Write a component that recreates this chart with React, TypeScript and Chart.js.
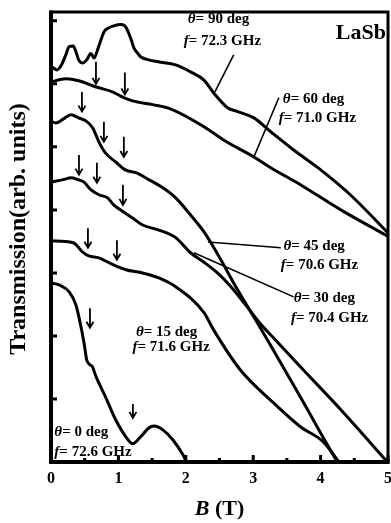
import { useEffect, useRef } from "react";
import { Chart, registerables } from "chart.js";

Chart.register(...registerables);

// Magnetic field (T) and transmission (arb. units, offset per angle)
const b90 = [0, 0.04, 0.09, 0.15, 0.22, 0.27, 0.33, 0.37, 0.41, 0.47, 0.53, 0.59, 0.64, 0.7, 0.79, 0.86, 0.93, 1.04, 1.11, 1.19, 1.23, 1.29, 1.33, 1.45, 1.59, 1.85, 2.07, 2.27, 2.41, 2.62, 2.77, 3.01, 3.26, 3.6, 3.96, 4.44, 5.05];
const t90 = [6.29, 6.25, 6.22, 6.29, 6.46, 6.59, 6.6, 6.51, 6.38, 6.33, 6.38, 6.48, 6.41, 6.57, 6.83, 6.89, 6.92, 6.94, 6.9, 6.7, 6.57, 6.48, 6.43, 6.38, 6.35, 6.3, 6.19, 6.06, 5.86, 5.62, 5.56, 5.46, 5.24, 4.95, 4.67, 4.24, 3.58];

const b60 = [0, 0.22, 0.41, 0.67, 0.92, 1.08, 1.21, 1.51, 1.78, 2.27, 2.56, 3.01, 3.26, 3.7, 4.3, 5.05];
const t60 = [6.03, 6.08, 6.05, 5.95, 5.87, 5.78, 5.73, 5.67, 5.6, 5.32, 5.11, 4.84, 4.67, 4.4, 4.0, 3.55];

const b45 = [0, 0.07, 0.18, 0.3, 0.41, 0.52, 0.62, 0.71, 0.81, 0.96, 1.11, 1.26, 1.45, 1.66, 1.85, 2.07, 2.27, 2.52, 2.71, 3.01, 3.21, 3.7, 4.25, 4.4];
const t45 = [5.4, 5.38, 5.44, 5.51, 5.46, 5.41, 5.3, 5.08, 4.9, 4.76, 4.63, 4.59, 4.48, 4.35, 4.19, 3.92, 3.65, 3.21, 2.84, 2.3, 1.94, 1.03, 0, -0.25];

const b30 = [0, 0.18, 0.3, 0.4, 0.49, 0.59, 0.71, 0.84, 0.93, 1.07, 1.21, 1.36, 1.6, 1.85, 2.07, 2.27, 2.47, 2.67, 2.89, 3.11, 3.3, 3.7, 4.3, 5.05];
const t30 = [4.44, 4.48, 4.51, 4.48, 4.44, 4.32, 4.24, 4.19, 4.08, 3.97, 3.87, 3.76, 3.68, 3.56, 3.32, 3.17, 3.0, 2.78, 2.49, 2.19, 1.97, 1.51, 0.83, -0.07];

const b15 = [0, 0.33, 0.47, 0.56, 0.71, 0.92, 1.11, 1.36, 1.6, 1.85, 2.27, 2.41, 2.81, 3.3, 3.7, 4.04, 4.25, 4.37];
const t15 = [3.51, 3.48, 3.33, 3.27, 3.24, 3.13, 3.05, 3.0, 2.92, 2.78, 2.37, 2.1, 1.46, 0.94, 0.56, 0.32, 0.03, -0.16];

const b0 = [0, 0.12, 0.27, 0.37, 0.44, 0.49, 0.53, 0.58, 0.61, 0.67, 0.81, 0.96, 1.11, 1.21, 1.33, 1.45, 1.53, 1.66, 1.81, 1.96, 2.01, 2.07];
const t0 = [2.84, 2.81, 2.7, 2.49, 2.17, 1.89, 1.62, 1.54, 1.52, 1.35, 1.03, 0.67, 0.4, 0.29, 0.4, 0.54, 0.57, 0.51, 0.35, 0.11, 0, -0.13];

// Resonance markers: field, arrow top, arrow tip
const arrowB = [0.667, 1.096, 0.459, 0.785, 1.081, 0.415, 0.681, 1.067, 0.548, 0.978, 0.578, 1.215];
const arrowTop = [6.35, 6.18, 5.87, 5.4, 5.16, 4.87, 4.75, 4.4, 3.71, 3.52, 2.44, 0.92];
const arrowTip = [6.0, 5.83, 5.56, 5.08, 4.84, 4.56, 4.43, 4.08, 3.4, 3.21, 2.13, 0.7];

// Axis ticks
const fieldTicks = [0, 1, 2, 3, 4, 5];
const fieldMinorTicks = [0.5, 1.5, 2.5, 3.5, 4.5];
const transTicks = [1, 2, 3, 4, 5, 6, 7];

// Curve annotations
const labelAngles = ["90", "60", "45", "30", "15", "0"];
const labelFreqs = ["72.3", "71.0", "70.6", "70.4", "71.6", "72.6"];

const SERIF = '"Liberation Serif", "DejaVu Serif", "Times New Roman", serif';

type Pt = { x: number; y: number };
const toPoints = (b: number[], t: number[]): Pt[] => b.map((x, i) => ({ x, y: t[i] }));

// annotation anchors in data coordinates
const labelAnchor = [
  { tb: 2.03, ty: 7.02, fb: 1.97, fy: 6.67 },
  { tb: 3.44, ty: 5.75, fb: 3.38, fy: 5.46 },
  { tb: 3.45, ty: 3.43, fb: 3.41, fy: 3.13 },
  { tb: 3.6, ty: 2.6, fb: 3.56, fy: 2.29 },
  { tb: 1.26, ty: 2.06, fb: 1.21, fy: 1.83 },
  { tb: 0.05, ty: 0.48, fb: 0.05, fy: 0.16 },
];
const leaders = [
  { b1: 2.71, y1: 6.46, b2: 2.43, y2: 5.87 },
  { b1: 3.38, y1: 5.78, b2: 3.01, y2: 4.84 },
  { b1: 3.41, y1: 3.4, b2: 2.33, y2: 3.49 },
  { b1: 3.6, y1: 2.62, b2: 2.12, y2: 3.32 },
];

function drawRich(ctx: CanvasRenderingContext2D, parts: Array<[string, boolean]>, x: number, y: number, size: number, align: "left" | "center" = "left") {
  const fonts = parts.map(([, it]) => `${it ? "italic " : ""}bold ${size}px ${SERIF}`);
  let total = 0;
  parts.forEach(([s], i) => {
    ctx.font = fonts[i];
    total += ctx.measureText(s).width;
  });
  let cx = align === "center" ? x - total / 2 : x;
  ctx.textAlign = "left";
  ctx.textBaseline = "middle";
  parts.forEach(([s], i) => {
    ctx.font = fonts[i];
    ctx.fillText(s, cx, y);
    cx += ctx.measureText(s).width;
  });
}

const decorations = {
  id: "decorations",
  afterDraw(chart: any) {
    const { ctx, chartArea: a } = chart;
    const xs = chart.scales.x;
    const ys = chart.scales.y;
    const px = (v: number) => xs.getPixelForValue(v);
    const py = (v: number) => ys.getPixelForValue(v);
    ctx.save();
    ctx.strokeStyle = "#000";
    ctx.fillStyle = "#000";
    ctx.lineCap = "butt";

    // frame
    ctx.lineWidth = 3;
    ctx.strokeRect(a.left, a.top, a.right - a.left, a.bottom - a.top);
    ctx.lineWidth = 4;
    ctx.beginPath();
    ctx.moveTo(a.left, a.top - 1.5);
    ctx.lineTo(a.left, a.bottom);
    ctx.lineTo(a.right + 1.5, a.bottom);
    ctx.stroke();

    // inward ticks
    ctx.lineWidth = 3;
    ctx.beginPath();
    fieldTicks.forEach((v) => {
      ctx.moveTo(px(v), a.bottom);
      ctx.lineTo(px(v), a.bottom - 7);
    });
    transTicks.forEach((v) => {
      ctx.moveTo(a.left, py(v));
      ctx.lineTo(a.left + 6, py(v));
    });
    ctx.stroke();
    ctx.beginPath();
    fieldMinorTicks.forEach((v) => {
      ctx.moveTo(px(v), a.bottom);
      ctx.lineTo(px(v), a.bottom - 4);
    });
    ctx.stroke();

    // tick labels
    ctx.font = `bold 16px ${SERIF}`;
    ctx.textAlign = "center";
    ctx.textBaseline = "middle";
    fieldTicks.forEach((v) => ctx.fillText(String(v), px(v), a.bottom + 17));

    // axis titles
    drawRich(ctx, [["B", true], [" (T)", false]], (a.left + a.right) / 2, a.bottom + 47, 22, "center");
    ctx.save();
    ctx.translate(19, 229);
    ctx.rotate(-Math.PI / 2);
    drawRich(ctx, [["Transmission(arb. units)", false]], 0, 0, 24, "center");
    ctx.restore();

    // sample name
    ctx.font = `bold 22px ${SERIF}`;
    ctx.textAlign = "right";
    ctx.textBaseline = "middle";
    ctx.fillText("LaSb", a.right - 2, a.top + 21);

    // resonance arrows
    ctx.lineWidth = 1.8;
    arrowB.forEach((b, i) => {
      const x = px(b);
      const top = py(arrowTop[i]);
      const tip = py(arrowTip[i]);
      ctx.beginPath();
      ctx.moveTo(x, top);
      ctx.lineTo(x, tip);
      ctx.moveTo(x - 3.5, tip - 6);
      ctx.lineTo(x, tip);
      ctx.lineTo(x + 3.5, tip - 6);
      ctx.stroke();
    });

    // leader lines
    ctx.lineWidth = 1.6;
    leaders.forEach((l) => {
      ctx.beginPath();
      ctx.moveTo(px(l.b1), py(l.y1));
      ctx.lineTo(px(l.b2), py(l.y2));
      ctx.stroke();
    });

    // curve labels
    labelAngles.forEach((ang, i) => {
      const p = labelAnchor[i];
      drawRich(ctx, [["\u03b8", true], [`= ${ang} deg`, false]], px(p.tb), py(p.ty), 15);
      drawRich(ctx, [["f", true], [`= ${labelFreqs[i]} GHz`, false]], px(p.fb), py(p.fy), 15);
    });

    ctx.restore();
  },
};

export default function App() {
  const ref = useRef<HTMLCanvasElement | null>(null);

  useEffect(() => {
    if (!ref.current) return;
    const curves = [
      toPoints(b90, t90),
      toPoints(b60, t60),
      toPoints(b45, t45),
      toPoints(b30, t30),
      toPoints(b15, t15),
      toPoints(b0, t0),
    ];
    const chart = new Chart(ref.current, {
      type: "line",
      data: {
        datasets: curves.map((data, i) => ({
          label: `${labelAngles[i]} deg`,
          data,
          borderColor: "#000",
          borderWidth: 3,
          pointRadius: 0,
          fill: false,
          cubicInterpolationMode: "monotone" as const,
        })),
      },
      options: {
        responsive: false,
        animation: false,
        devicePixelRatio: 1,
        layout: { padding: { top: 12, right: 3, left: 0, bottom: 0 } },
        plugins: { legend: { display: false }, tooltip: { enabled: false } },
        scales: {
          x: {
            type: "linear",
            min: 0,
            max: 5,
            ticks: { display: false, stepSize: 1 },
            grid: { display: false },
            border: { display: false },
            afterFit: (s: any) => {
              s.height = 61;
            },
          },
          y: {
            type: "linear",
            min: 0,
            max: 7.14,
            ticks: { display: false, stepSize: 1 },
            grid: { display: false },
            border: { display: false },
            afterFit: (s: any) => {
              s.width = 51;
            },
          },
        },
      },
      plugins: [decorations],
    });
    return () => chart.destroy();
  }, []);

  return (
    <div style={{ position: "absolute", left: 0, top: 0, width: 391, height: 523, background: "#fff" }}>
      <canvas ref={ref} width={391} height={523} style={{ width: 391, height: 523, display: "block" }} />
    </div>
  );
}
